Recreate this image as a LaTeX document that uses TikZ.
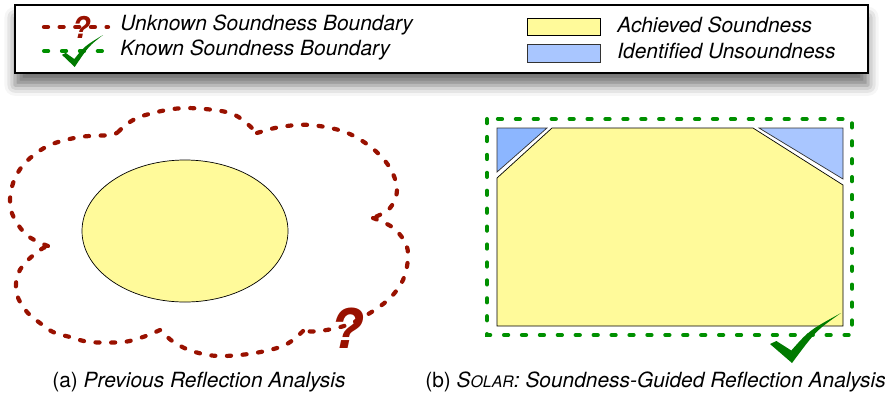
\documentclass[tikz,border=0pt]{standalone}
\usepackage{fontspec}
\setmainfont{TeX Gyre Heros}
\usetikzlibrary{shadows.blur}

\definecolor{unkred}{HTML}{991100}
\definecolor{knowngreen}{HTML}{009000}
\definecolor{checkgreen}{HTML}{007A00}
\definecolor{soundyellow}{HTML}{FFFA9A}
\definecolor{unsoundblue}{HTML}{8CB6FF}
\definecolor{unsoundlight}{HTML}{A9C6FF}

\tikzset{
  unknownline/.style={unkred, line width=2.4pt, dash pattern=on 2.3pt off 6.6pt, line cap=round},
  knownline/.style={knowngreen, line width=2.3pt, dash pattern=on 2.4pt off 7.8pt, line cap=round},
  soundarea/.style={fill=soundyellow, draw=black, line width=0.4pt},
  unsoundarea/.style={draw=black!80, line width=0.4pt},
  legendtext/.style={anchor=west, inner sep=0pt, font=\itshape\fontsize{11.9}{14}\selectfont},
  captiontext/.style={anchor=west, inner sep=0pt, font=\fontsize{11.9}{14}\selectfont},
  qmark/.style={inner sep=0pt, text=unkred, font=\bfseries\itshape},
  checkmark/.pic={
    \fill[checkgreen] (0,0.62) -- (0.09,0.56) -- (0.30,0.75)
      .. controls (0.55,0.35) .. (1,0)
      .. controls (0.65,0.35) .. (0.31,1) -- cycle;
  }
}

\begin{document}
\begin{tikzpicture}[x=0.02cm, y=-0.02cm]
\useasboundingbox (0,0) rectangle (885,393);

% Legend box
\path[draw=black, line width=0.9pt, fill=white,
  blur shadow={shadow xshift=0pt, shadow yshift=-7pt, shadow blur radius=6pt, shadow opacity=55}]
  (15,5) rectangle (868,73);

\draw[unknownline] (44,27) -- (108,27);
\node[qmark, font=\bfseries\itshape\fontsize{17}{17}\selectfont] (legq) at (81,27) {?};
\node[legendtext] (legunknown) at (120,25) {Unknown Soundness Boundary};

\draw[knownline] (44,51) -- (108,51);
\pic[xscale=41, yscale=32] at (62,35) {checkmark};
\node[legendtext] (legknown) at (120,50) {Known Soundness Boundary};

\path[soundarea] (527,18) rectangle (600,35);
\node[legendtext] (legachieved) at (617,25) {Achieved Soundness};
\path[unsoundarea, fill=unsoundlight] (527,44) rectangle (600,62);
\node[legendtext] (legunsound) at (617,51) {Identified Unsoundness};

% (a) previous analysis
\draw[soundarea] (185,231) ellipse [x radius=103, y radius=71];

\draw[unknownline]
  plot[smooth, tension=0.6] coordinates {(118,132) (137,118) (173,109) (205,109) (235,115) (257,133)}
  plot[smooth, tension=0.6] coordinates {(257,133) (280,127) (310,125) (345,132) (372,148) (390,168) (397,190) (390,208) (373,218)}
  plot[smooth, tension=0.6] coordinates {(373,218) (392,227) (405,242) (408,258) (403,280) (390,298) (370,313) (347,325) (320,331) (303,331)}
  plot[smooth, tension=0.6] coordinates {(303,331) (285,345) (255,353) (220,356) (195,352) (175,343) (160,330)}
  plot[smooth, tension=0.6] coordinates {(160,330) (143,337) (123,342) (90,342) (70,337) (53,332) (40,323) (27,312) (17,295) (17,277) (25,263) (40,250) (48,246)}
  plot[smooth, tension=0.6] coordinates {(48,246) (28,236) (14,218) (10,200) (15,178) (28,160) (50,145) (80,137) (110,135) (118,132)};
\node[qmark, font=\bfseries\itshape\fontsize{31}{31}\selectfont] (bigq) at (346,328) {?};

\node[captiontext] (capa) at (52,382) {(a) \textit{Previous Reflection Analysis}};

% (b) soundness-guided analysis
\draw[knownline] (487,119) rectangle (852,335);
\draw[soundarea] (552,128) -- (753,128) -- (843,185) -- (843,326) -- (497,326) -- (497,178) -- cycle;
\draw[unsoundarea, fill=unsoundblue] (497,128) -- (547,128) -- (497,172) -- cycle;
\draw[unsoundarea, fill=unsoundlight] (759,128) -- (843,128) -- (843,179) -- cycle;
\pic[xscale=71, yscale=50] at (770,313) {checkmark};

\node[captiontext] (capb) at (425,382) {(b) \textit{S{\fontsize{9}{10}\selectfont OLAR}: Soundness-Guided Reflection Analysis}};
\end{tikzpicture}
\end{document}
